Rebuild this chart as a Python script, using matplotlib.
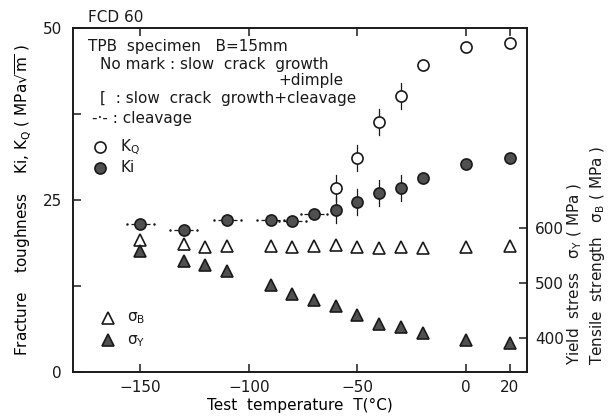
import matplotlib

matplotlib.use("Agg")
import matplotlib.pyplot as plt
from matplotlib.ticker import FixedLocator

INK = "#1a1a1a"
FILL = "#505050"

# strength data (right axis, MPa)
T_sig = [-150, -130, -120, -110, -90, -80, -70, -60, -50, -40, -30, -20, 0, 20]
sigma_B = [577, 570, 566, 567, 567, 565, 567, 568, 566, 564, 566, 563, 566, 567]
sigma_Y = [558, 540, 533, 522, 496, 480, 469, 458, 442, 425, 420, 409, 396, 391]

# fracture toughness (left axis, MPa sqrt(m))
T_ki = [-150, -130, -110, -90, -80, -70, -60, -50, -40, -30, -20, 0, 20]
Ki = [21.5, 20.6, 22.1, 22.1, 21.9, 22.9, 23.5, 24.7, 26.0, 26.7, 28.2, 30.2, 31.1]
Ki_mode = ["c", "c", "c", "c", "c", "c", "s", "s", "s", "s", "", "", ""]

T_kq = [-60, -50, -40, -30, -20, 0, 20]
KQ = [26.7, 31.1, 36.3, 40.1, 44.6, 47.2, 47.8]
KQ_mode = ["s", "s", "s", "s", "", "", ""]

plt.rcParams.update({
    "font.family": "DejaVu Sans",
    "font.size": 11,
    "text.color": INK,
    "axes.edgecolor": INK,
    "xtick.color": INK,
    "ytick.color": INK,
})

fig = plt.figure(figsize=(6.12, 4.18), dpi=100)
ax = fig.add_axes([0.119, 0.110, 0.742, 0.823])
ax.set_xlim(-181, 28)
ax.set_ylim(0, 50)
for s in ax.spines.values():
    s.set_linewidth(1.2)

ax.set_xticks([-150, -100, -50, 0, 20])
ax.set_xticklabels(["\u2212150", "\u2212100", "\u221250", "0", "20"])
ax.set_yticks([0, 25, 50])
ax.yaxis.set_minor_locator(FixedLocator([12.5, 37.5]))
ax.tick_params(which="both", direction="in", length=6, width=1.1,
               top=True, labelsize=11)
ax.tick_params(axis="x", pad=6)
ax.tick_params(axis="y", pad=8)


def marks(ts, ks, modes):
    # "|" = slow crack growth + cleavage, "-.-" = cleavage
    for t, k, m in zip(ts, ks, modes):
        if m == "s":
            ax.plot([t, t], [k - 1.9, k + 1.9], color=INK, lw=0.9, zorder=2)
        elif m == "c":
            for side in (-1, 1):
                ax.plot([t + side * 2.4, t + side * 4.4], [k, k], color=INK,
                        lw=0.9, solid_capstyle="butt", zorder=2)
                ax.plot(t + side * 6.2, k, ".", ms=1.6, color=INK, zorder=2)


marks(T_ki, Ki, Ki_mode)
marks(T_kq, KQ, KQ_mode)
ax.plot(T_kq, KQ, "o", ms=8, mfc="white", mec=INK, mew=1.2, ls="none", zorder=3)
ax.plot(T_ki, Ki, "o", ms=8, mfc=FILL, mec=INK, mew=1.2, ls="none", zorder=3)

# right axis for strengths
ax2 = ax.twinx()
ax2.set_ylim(338, 963)
ax2.set_yticks([400, 500, 600])
ax2.tick_params(direction="in", length=6, width=1.1, labelsize=11, pad=6)
for s in ax2.spines.values():
    s.set_linewidth(1.2)
ax2.plot(T_sig, sigma_B, "^", ms=8, mfc="white", mec=INK, mew=1.2, ls="none")
ax2.plot(T_sig, sigma_Y, "^", ms=8, mfc=FILL, mec=INK, mew=1.2, ls="none")

ax.set_xlabel("Test  temperature  T(\u00b0C)", fontsize=11, labelpad=2)
ax.set_ylabel("Fracture    toughness    Ki, K$_\\mathrm{Q}$ ( MPa$\\sqrt{\\mathrm{m}}$ )",
              fontsize=11, labelpad=6)
fig.text(0.940, 0.127, "Yield  stress   \u03c3$_\\mathrm{Y}$ ( MPa )",
         rotation=90, ha="center", va="bottom", fontsize=11)
fig.text(0.976, 0.127, "Tensile  strength   \u03c3$_\\mathrm{B}$ ( MPa )",
         rotation=90, ha="center", va="bottom", fontsize=11)

fig.text(0.144, 0.958, "FCD 60", fontsize=11, va="center")


# in-plot key, placed in figure pixels
def px(x, y):
    return x / 612, 1 - y / 418


fig.text(*px(88, 47), "TPB  specimen   B=15mm", va="center", fontsize=11)
fig.text(*px(100, 65), "No mark : slow  crack  growth", va="center", fontsize=11)
fig.text(*px(343, 80), "+dimple", va="center", ha="right", fontsize=11)
fig.text(*px(100, 98), "[  : slow  crack  growth+cleavage", va="center", fontsize=11)
fig.text(*px(92, 118), "-\u00b7- : cleavage", va="center", fontsize=11)
ax.plot(-168.5, 32.7, "o", ms=8, mfc="white", mec=INK, mew=1.2)
fig.text(*px(120, 147), "K$_\\mathrm{Q}$", va="center", fontsize=11)
ax.plot(-168.5, 29.7, "o", ms=8, mfc=FILL, mec=INK, mew=1.2)
fig.text(*px(120, 168), "Ki", va="center", fontsize=11)
ax.plot(-165, 7.9, "^", ms=8, mfc="white", mec=INK, mew=1.2)
fig.text(*px(127, 318), "\u03c3$_\\mathrm{B}$", va="center", fontsize=11)
ax.plot(-165, 4.6, "^", ms=8, mfc=FILL, mec=INK, mew=1.2)
fig.text(*px(127, 341), "\u03c3$_\\mathrm{Y}$", va="center", fontsize=11)

fig.savefig("out.png", dpi=100, facecolor="white")
